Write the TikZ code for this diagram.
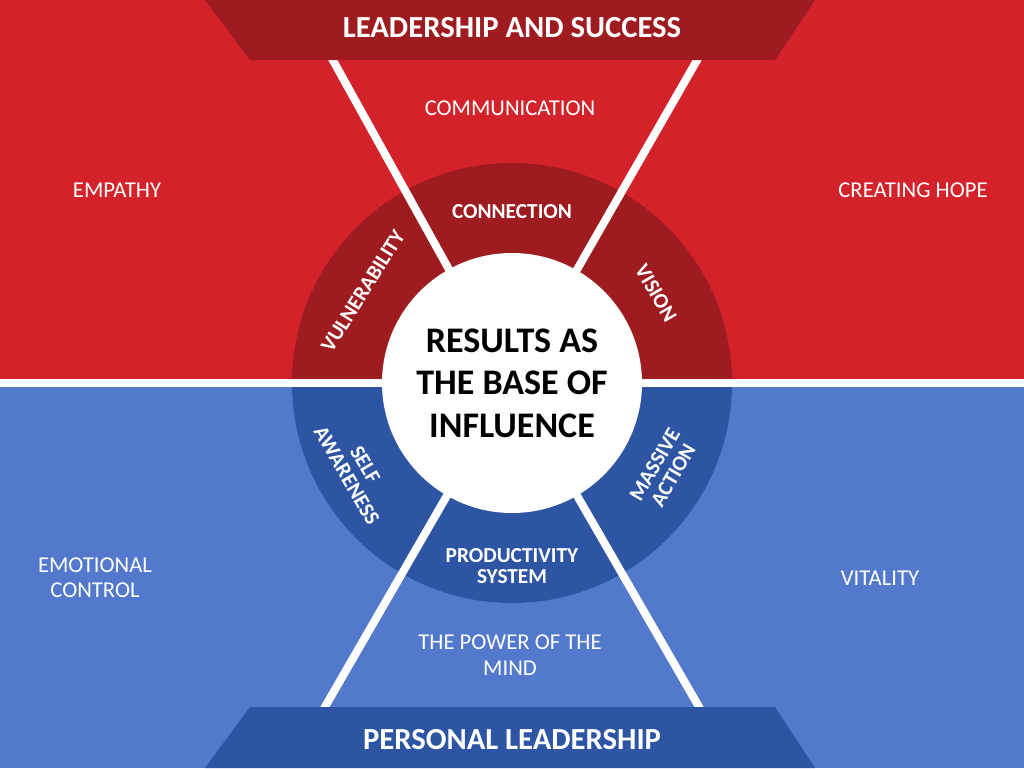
\documentclass[tikz,border=0pt]{standalone}
\usepackage{fontspec}
\setmainfont{Carlito}
\definecolor{rtop}{HTML}{D32229}
\definecolor{rdark}{HTML}{9E1B20}
\definecolor{bbot}{HTML}{5379CC}
\definecolor{bdark}{HTML}{2E55A4}
\begin{document}
\begin{tikzpicture}[x=0.75pt,y=-0.75pt,
  lbl/.style={text=white,font=\fontsize{17}{19}\selectfont,align=center},
  ring/.style={text=white,font=\bfseries\fontsize{16}{16}\selectfont,align=center},
  ban/.style={text=white,font=\bfseries\fontsize{23}{25}\selectfont},
  wl/.style={white,line width=6pt}]
\useasboundingbox (0,0) rectangle (1024,768);
\fill[rtop] (0,0) rectangle (1024,383);
\fill[bbot] (0,383) rectangle (1024,768);
\coordinate (c) at (512,383);
\fill[bdark] (292,383) arc[start angle=180,end angle=0,radius=220] -- cycle;
\fill[rdark] (292,383) arc[start angle=180,end angle=360,radius=220] -- cycle;
\coordinate (t1) at (330,55);\coordinate (t2) at (700,55);
\coordinate (b1) at (322,712);\coordinate (b2) at (702,712);
\draw[wl] (0,383) -- (1024,383);
\draw[wl] (c) -- (t1); \draw[wl] (c) -- (t2);
\draw[wl] (c) -- (b1); \draw[wl] (c) -- (b2);
\fill[rdark] (205,0) -- (815,0) -- (775,60) -- (250,60) -- cycle;
\fill[bdark] (250,707) -- (775,707) -- (815,768) -- (205,768) -- cycle;
\fill[white] (c) circle[radius=130];
\node[ban] (top) at (512,28) {LEADERSHIP AND SUCCESS};
\node[ban] (bot) at (512,740) {PERSONAL LEADERSHIP};
\node[align=center,font=\bfseries\fontsize{27}{32}\selectfont] (ctr) at (512,383) {RESULTS AS\\THE BASE OF\\INFLUENCE};
\node[lbl] (comm) at (510,108) {COMMUNICATION};
\node[lbl] (emp) at (117,190) {EMPATHY};
\node[lbl] (hope) at (913,190) {CREATING HOPE};
\node[lbl] (emo) at (95,578) {EMOTIONAL\\CONTROL};
\node[lbl] (vit) at (880,578) {VITALITY};
\node[lbl] (mind) at (510,655) {THE POWER OF THE\\MIND};
\node[ring] (conn) at (512,212) {CONNECTION};
\node[ring,rotate=58] (vul) at (363,291) {VULNERABILITY};
\node[ring,rotate=-60] (vis) at (656,293) {VISION};
\node[ring,rotate=-60] (self) at (356,470) {SELF\\AWARENESS};
\node[ring,rotate=60] (mass) at (664,470) {MASSIVE\\ACTION};
\node[ring] (prod) at (512,566) {PRODUCTIVITY\\SYSTEM};
\end{tikzpicture}
\end{document}
